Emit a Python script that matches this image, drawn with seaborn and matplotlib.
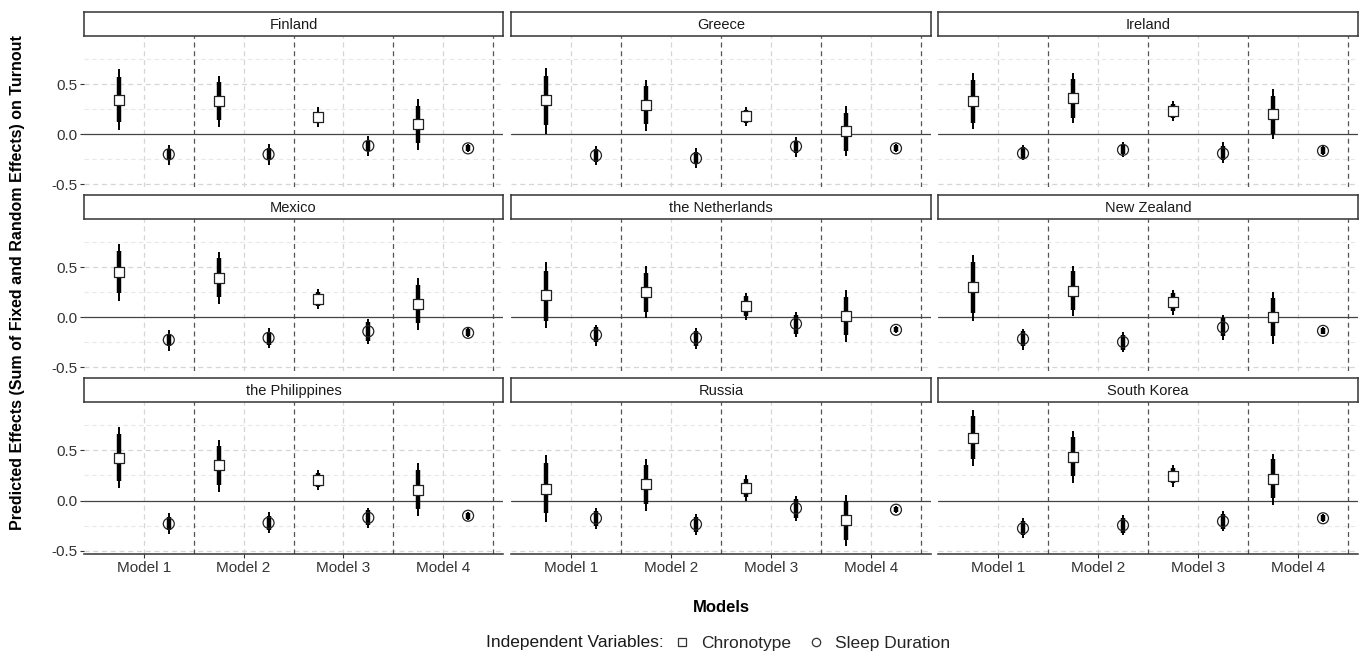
import numpy as np
import pandas as pd
import matplotlib
matplotlib.use("Agg")
import matplotlib.pyplot as plt
import seaborn as sns
from matplotlib.lines import Line2D

# ---------------- data ----------------
countries = ["Finland", "Greece", "Ireland",
             "Mexico", "the Netherlands", "New Zealand",
             "the Philippines", "Russia", "South Korea"]
models = ["Model 1", "Model 2", "Model 3", "Model 4"]
variables = ["Chronotype", "Sleep Duration"]

# Chronotype: estimate, inner interval (lo/hi), outer interval (lo/hi)
chrono_est = [[0.345, 0.33, 0.17, 0.105], [0.34, 0.29, 0.18, 0.035], [0.33, 0.36, 0.23, 0.205],
              [0.45, 0.395, 0.185, 0.135], [0.225, 0.255, 0.11, 0.015], [0.30, 0.265, 0.15, 0.0],
              [0.425, 0.35, 0.205, 0.11], [0.12, 0.165, 0.13, -0.195], [0.625, 0.435, 0.245, 0.22]]
chrono_in_lo = [[0.12, 0.14, 0.115, -0.09], [0.09, 0.10, 0.115, -0.165], [0.115, 0.165, 0.16, 0.0],
                [0.24, 0.20, 0.115, -0.06], [-0.035, 0.055, 0.015, -0.175], [0.045, 0.075, 0.06, -0.19],
                [0.20, 0.16, 0.14, -0.08], [-0.125, -0.035, 0.035, -0.39], [0.41, 0.24, 0.175, 0.025]]
chrono_in_hi = [[0.575, 0.52, 0.22, 0.285], [0.58, 0.48, 0.245, 0.215], [0.54, 0.55, 0.30, 0.385],
                [0.665, 0.59, 0.25, 0.325], [0.465, 0.44, 0.21, 0.205], [0.55, 0.46, 0.245, 0.195],
                [0.66, 0.545, 0.27, 0.30], [0.37, 0.35, 0.22, 0.0], [0.84, 0.63, 0.32, 0.41]]
chrono_out_lo = [[0.04, 0.075, 0.07, -0.155], [0.0, 0.03, 0.08, -0.22], [0.05, 0.11, 0.13, -0.05],
                 [0.165, 0.135, 0.085, -0.125], [-0.11, -0.01, -0.025, -0.25], [-0.04, 0.01, 0.02, -0.265],
                 [0.125, 0.09, 0.11, -0.15], [-0.21, -0.10, 0.0, -0.455], [0.345, 0.18, 0.14, -0.04]]
chrono_out_hi = [[0.65, 0.58, 0.27, 0.355], [0.665, 0.54, 0.27, 0.28], [0.61, 0.61, 0.33, 0.45],
                 [0.73, 0.65, 0.285, 0.39], [0.55, 0.51, 0.24, 0.27], [0.625, 0.515, 0.275, 0.25],
                 [0.73, 0.60, 0.30, 0.37], [0.45, 0.41, 0.255, 0.055], [0.905, 0.69, 0.35, 0.465]]

# Sleep Duration
sleep_est = [[-0.20, -0.20, -0.115, -0.14], [-0.21, -0.24, -0.12, -0.14], [-0.19, -0.155, -0.19, -0.165],
             [-0.225, -0.205, -0.14, -0.155], [-0.175, -0.205, -0.065, -0.125], [-0.215, -0.245, -0.10, -0.135],
             [-0.23, -0.22, -0.17, -0.15], [-0.175, -0.235, -0.075, -0.09], [-0.275, -0.245, -0.205, -0.175]]
sleep_in_lo = [[-0.25, -0.26, -0.165, -0.17], [-0.28, -0.30, -0.19, -0.17], [-0.24, -0.20, -0.26, -0.20],
               [-0.285, -0.275, -0.235, -0.19], [-0.25, -0.285, -0.165, -0.15], [-0.29, -0.325, -0.19, -0.165],
               [-0.295, -0.295, -0.245, -0.18], [-0.255, -0.31, -0.17, -0.115], [-0.345, -0.32, -0.28, -0.205]]
sleep_in_hi = [[-0.15, -0.14, -0.065, -0.11], [-0.15, -0.18, -0.065, -0.11], [-0.13, -0.105, -0.115, -0.13],
               [-0.165, -0.145, -0.05, -0.12], [-0.10, -0.135, 0.025, -0.10], [-0.14, -0.175, -0.005, -0.11],
               [-0.16, -0.155, -0.09, -0.12], [-0.10, -0.165, 0.015, -0.065], [-0.20, -0.17, -0.13, -0.145]]
sleep_out_lo = [[-0.305, -0.31, -0.215, -0.18], [-0.31, -0.335, -0.225, -0.18], [-0.26, -0.23, -0.285, -0.21],
                [-0.335, -0.31, -0.265, -0.20], [-0.285, -0.315, -0.20, -0.16], [-0.325, -0.35, -0.23, -0.17],
                [-0.33, -0.32, -0.27, -0.19], [-0.28, -0.345, -0.205, -0.125], [-0.37, -0.345, -0.305, -0.215]]
sleep_out_hi = [[-0.105, -0.10, -0.015, -0.10], [-0.115, -0.14, -0.025, -0.10], [-0.105, -0.08, -0.08, -0.12],
                [-0.125, -0.105, -0.015, -0.11], [-0.075, -0.105, 0.055, -0.09], [-0.115, -0.145, 0.02, -0.10],
                [-0.12, -0.115, -0.07, -0.11], [-0.075, -0.13, 0.05, -0.055], [-0.175, -0.14, -0.10, -0.135]]

y_ticks = [-0.5, 0.0, 0.5]
y_tick_labels = ["-0.5", "0.0", "0.5"]

# ---------------- long table ----------------
rows = []
for ci, c in enumerate(countries):
    for mi, m in enumerate(models):
        rows.append(dict(country=c, model=m, mi=mi, var="Chronotype",
                         est=chrono_est[ci][mi], ilo=chrono_in_lo[ci][mi], ihi=chrono_in_hi[ci][mi],
                         olo=chrono_out_lo[ci][mi], ohi=chrono_out_hi[ci][mi]))
        rows.append(dict(country=c, model=m, mi=mi, var="Sleep Duration",
                         est=sleep_est[ci][mi], ilo=sleep_in_lo[ci][mi], ihi=sleep_in_hi[ci][mi],
                         olo=sleep_out_lo[ci][mi], ohi=sleep_out_hi[ci][mi]))
df = pd.DataFrame(rows)
dodge = {"Chronotype": -0.25, "Sleep Duration": 0.25}
df["xpos"] = df["mi"] + 1 + df["var"].map(dodge)

# ---------------- style ----------------
sns.set_theme(style="white")
plt.rcParams["font.family"] = ["Liberation Sans", "DejaVu Sans"]
plt.rcParams["axes.unicode_minus"] = False

W, H = 1360, 657
fig = plt.figure(figsize=(W / 100, H / 100), dpi=100)
fig.patch.set_facecolor("white")

col_x = [(84, 503), (511, 931), (938, 1358)]
row_y = [(12, 36, 187.5), (195, 219, 370.5), (378, 402, 554)]

TXT = "#1a1a1a"
for i, c in enumerate(countries):
    r, cc = divmod(i, 3)
    x0, x1 = col_x[cc]
    st, pt, pb = row_y[r]
    ax = fig.add_axes([x0 / W, 1 - pb / H, (x1 - x0) / W, (pb - pt) / H])
    sax = fig.add_axes([x0 / W, 1 - pt / H, (x1 - x0) / W, (pt - st) / H])

    # strip
    sax.set_xticks([]); sax.set_yticks([])
    sax.set_facecolor("white")
    for s in sax.spines.values():
        s.set_color("#333333"); s.set_linewidth(1.1)
    sax.text(0.5, 0.45, c, ha="center", va="center", fontsize=10.5, color=TXT,
             transform=sax.transAxes)

    # panel
    ax.set_xlim(0.4, 4.6)
    ax.set_ylim(-0.53, 0.98)
    for s in ax.spines.values():
        s.set_visible(False)
    for yv in [-0.25, 0.25, 0.75]:
        ax.axhline(yv, color="#e8e8e8", lw=0.8, dashes=(4, 3), zorder=0)
    for yv in [-0.5, 0.5]:
        ax.axhline(yv, color="#d6d6d6", lw=0.9, dashes=(4, 3), zorder=0)
    for xv in [1, 2, 3, 4]:
        ax.axvline(xv, color="#d6d6d6", lw=0.9, dashes=(4, 3), zorder=0)
    for xv in [1.5, 2.5, 3.5, 4.5]:
        ax.axvline(xv, color="#555555", lw=0.9, dashes=(4, 3), zorder=1)
    ax.axhline(0, color="#444444", lw=0.9, zorder=1)

    sub = df[df["country"] == c]
    ax.vlines(sub["xpos"], sub["olo"], sub["ohi"], color="black", lw=1.4, zorder=2)
    ax.vlines(sub["xpos"], sub["ilo"], sub["ihi"], color="black", lw=3.2, zorder=2)
    sns.scatterplot(data=sub[sub["var"] == "Chronotype"], x="xpos", y="est", marker="s",
                    s=52, color="white", edgecolor="#222222", linewidth=0.9, ax=ax, zorder=4,
                    legend=False)
    sns.scatterplot(data=sub[sub["var"] == "Sleep Duration"], x="xpos", y="est", marker="o",
                    s=62, facecolors="none", edgecolor="#222222", linewidth=0.9, ax=ax, zorder=4,
                    legend=False)
    ax.set_xlabel(""); ax.set_ylabel("")

    ax.set_yticks(y_ticks)
    if cc == 0:
        ax.set_yticklabels(y_tick_labels)
        ax.tick_params(axis="y", left=True, length=3, width=0.8, color="#333333",
                       labelsize=11, labelcolor="#333333", pad=2)
    else:
        ax.set_yticklabels([])
        ax.tick_params(axis="y", left=False)
    ax.set_xticks([1, 2, 3, 4])
    if r == 2:
        ax.spines["bottom"].set_visible(True)
        ax.spines["bottom"].set_color("#333333")
        ax.spines["bottom"].set_linewidth(1.1)
        ax.set_xticklabels(models)
        ax.tick_params(axis="x", bottom=True, length=3, width=0.8, color="#333333",
                       labelsize=11, labelcolor="#333333", pad=2)
    else:
        ax.set_xticklabels([])
        ax.tick_params(axis="x", bottom=False)

fig.text(18 / W, 1 - 283 / H, "Predicted Effects (Sum of Fixed and Random Effects) on Turnout",
         rotation=90, ha="center", va="center", fontsize=11.5, fontweight="bold", color="black")
fig.text(721 / W, 1 - 607 / H, "Models", ha="center", va="center", fontsize=12,
         fontweight="bold", color="black")

fig.text(486 / W, 1 - 643 / H, "Independent Variables:", ha="left", va="center", fontsize=12.5,
         color=TXT)
handles = [Line2D([], [], marker="s", ls="", markerfacecolor="none", markeredgecolor="#333333",
                  markersize=6, markeredgewidth=0.9),
           Line2D([], [], marker="o", ls="", markerfacecolor="none", markeredgecolor="#333333",
                  markersize=6, markeredgewidth=0.9)]
fig.legend(handles, variables, loc="center left", bbox_to_anchor=(672 / W, 1 - 643 / H),
           ncol=2, frameon=False, fontsize=12.5, handletextpad=0.5, columnspacing=0.8,
           handlelength=1.2, borderaxespad=0, borderpad=0)

fig.savefig("out.png", dpi=100, facecolor="white")
